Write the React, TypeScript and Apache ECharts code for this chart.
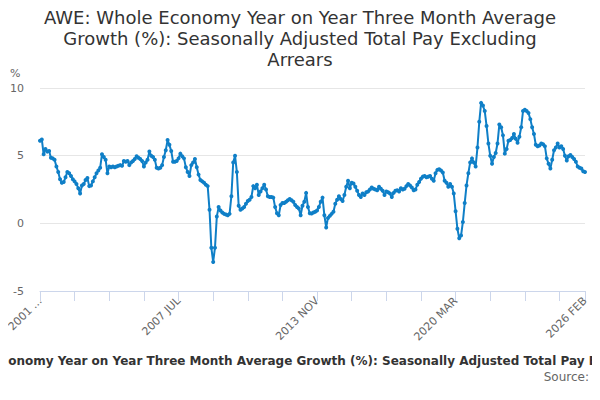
import React, { useEffect, useRef } from "react";
import * as echarts from "echarts";

const TITLE =
  "AWE: Whole Economy Year on Year Three Month Average Growth (%): Seasonally Adjusted Total Pay Excluding Arrears";
const TITLE_LINES = [
  "AWE: Whole Economy Year on Year Three Month Average",
  "Growth (%): Seasonally Adjusted Total Pay Excluding",
  "Arrears",
];
const MONTHS = ["JAN", "FEB", "MAR", "APR", "MAY", "JUN", "JUL", "AUG", "SEP", "OCT", "NOV", "DEC"];
const START_YEAR = 2001;
const START_MONTH = 2; // MAR
const Y_TICKS = [-5, 0, 5, 10];

// Monthly values, 2001 MAR .. 2026 FEB
const values2001 = [6.1, 6.2, 5.1, 5.5, 5.3, 5.35, 4.85, 4.8, 4.7, 4.2];
const values2002 = [3.8, 3.25, 3.0, 3.05, 3.4, 3.8, 3.7, 3.5, 3.25, 3.1, 2.9, 2.6];
const values2003 = [2.2, 2.8, 2.9, 3.2, 3.35, 2.75, 2.8, 3.1, 3.4, 3.7, 3.9, 4.1];
const values2004 = [5.1, 4.9, 4.7, 3.7, 4.2, 4.15, 4.2, 4.15, 4.2, 4.25, 4.3, 4.25];
const values2005 = [4.6, 4.55, 4.6, 4.3, 4.5, 4.6, 4.75, 4.95, 4.85, 4.75, 4.6, 4.2];
const values2006 = [4.5, 4.7, 5.3, 5.0, 4.9, 4.7, 4.1, 4.05, 4.1, 4.3, 4.9, 5.4];
const values2007 = [6.15, 5.8, 5.35, 4.55, 4.55, 4.6, 4.8, 5.15, 4.95, 4.8, 4.15, 3.8];
const values2008 = [3.5, 4.3, 4.5, 4.75, 4.15, 3.6, 3.2, 3.1, 3.0, 2.85, 2.75, 1.0];
const values2009 = [-1.8, -2.85, -1.8, 0.5, 1.2, 0.95, 0.8, 0.7, 0.65, 0.6, 0.7, 2.0];
const values2010 = [4.5, 5.0, 3.8, 1.3, 1.0, 1.1, 1.2, 1.45, 1.65, 1.75, 1.95, 2.75];
const values2011 = [2.6, 2.85, 2.1, 2.35, 2.6, 2.85, 2.5, 2.0, 1.95, 1.95, 1.9, 1.2];
const values2012 = [0.75, 0.6, 1.35, 1.5, 1.5, 1.6, 1.7, 1.8, 1.7, 1.6, 1.35, 1.2];
const values2013 = [1.1, 0.6, 1.3, 1.6, 2.25, 1.2, 0.75, 0.72, 0.8, 0.85, 0.95, 1.2];
const values2014 = [1.6, 1.9, 0.6, -0.3, 0.4, 0.55, 0.7, 0.85, 1.45, 1.75, 2.0, 1.8];
const values2015 = [1.65, 2.1, 2.7, 3.15, 2.6, 3.0, 2.95, 2.7, 2.4, 2.1, 1.95, 2.2];
const values2016 = [2.1, 2.3, 2.35, 2.5, 2.65, 2.55, 2.5, 2.45, 2.7, 2.55, 2.4, 2.1];
const values2017 = [2.35, 2.3, 2.2, 1.95, 2.25, 2.4, 2.45, 2.35, 2.6, 2.5, 2.55, 2.75];
const values2018 = [2.9, 2.8, 2.65, 2.45, 2.5, 2.85, 3.05, 3.3, 3.45, 3.5, 3.4, 3.45];
const values2019 = [3.5, 3.3, 3.15, 3.7, 3.95, 4.0, 3.9, 3.75, 3.15, 3.0, 2.7, 2.9];
const values2020 = [2.7, 2.2, 0.9, -0.4, -1.1, -0.9, 0.1, 1.5, 2.8, 3.7, 4.5, 4.8];
const values2021 = [4.5, 4.2, 5.6, 7.5, 8.9, 8.7, 8.3, 7.2, 5.9, 5.0, 4.4, 4.9];
const values2022 = [5.2, 5.9, 7.3, 7.1, 6.5, 5.15, 5.5, 6.1, 6.15, 6.3, 6.6, 6.25];
const values2023 = [5.95, 6.4, 7.1, 8.3, 8.4, 8.3, 8.15, 7.7, 7.1, 6.6, 5.8, 5.7];
const values2024 = [5.75, 5.9, 5.85, 5.7, 4.8, 4.4, 4.05, 4.7, 5.4, 5.6, 5.9, 5.6];
const values2025 = [5.7, 5.5, 5.0, 4.65, 4.95, 5.05, 4.9, 4.75, 4.55, 4.2, 4.1, 4.05];
const values2026 = [3.85, 3.8];

const SERIES = [
  ...values2001, ...values2002, ...values2003, ...values2004, ...values2005,
  ...values2006, ...values2007, ...values2008, ...values2009, ...values2010,
  ...values2011, ...values2012, ...values2013, ...values2014, ...values2015,
  ...values2016, ...values2017, ...values2018, ...values2019, ...values2020,
  ...values2021, ...values2022, ...values2023, ...values2024, ...values2025,
  ...values2026,
];

const CATEGORIES = SERIES.map((_, i) => {
  const m = START_MONTH + i;
  return `${START_YEAR + Math.floor(m / 12)} ${MONTHS[m % 12]}`;
});

const LABEL_STEP = 76;
const TICK_STEP = 19;

export default function App() {
  const ref = useRef<HTMLDivElement>(null);
  useEffect(() => {
    if (!ref.current) return;
    const chart = echarts.init(ref.current, null, { renderer: "svg" });
    const last = CATEGORIES.length - 1;
    chart.setOption({
      animation: false,
      textStyle: { fontFamily: "DejaVu Sans" },
      title: {
        text: TITLE_LINES.join("\n"),
        left: "center",
        top: 2,
        textStyle: { fontSize: 18, fontWeight: "normal", color: "#333", lineHeight: 21, fontFamily: "DejaVu Sans" },
      },
      grid: { left: 40, right: 15, top: 88, bottom: 109, containLabel: false },
      xAxis: {
        type: "category",
        data: CATEGORIES,
        boundaryGap: false,
        axisLine: { show: true, onZero: false, lineStyle: { color: "#ccd6eb" } },
        axisTick: {
          show: true,
          length: 10,
          lineStyle: { color: "#ccd6eb" },
          interval: (i: number) => i % TICK_STEP === 0 || i === last,
        },
        axisLabel: {
          rotate: 45,
          color: "#666",
          fontSize: 11,
          margin: 8,
          interval: (i: number) => i % LABEL_STEP === 0 || i === last,
          formatter: (v: string, i: number) => (i === 0 ? v.slice(0, 4) + " ..." : v),
        },
        splitLine: { show: false },
      },
      yAxis: {
        type: "value",
        min: Y_TICKS[0],
        max: Y_TICKS[Y_TICKS.length - 1],
        interval: 5,
        axisLine: { show: false },
        axisTick: { show: false },
        axisLabel: { color: "#666", fontSize: 11, margin: 16 },
        splitLine: { lineStyle: { color: "#e6e6e6" } },
      },
      series: [
        {
          type: "line",
          data: SERIES,
          showSymbol: true,
          showAllSymbol: true,
          symbol: "circle",
          symbolSize: 4,
          itemStyle: { color: "#0f7fc7" },
          lineStyle: { color: "#0f7fc7", width: 2 },
        },
      ],
      graphic: [
        {
          type: "text",
          left: 10,
          top: 68,
          style: { text: "%", fill: "#666", fontSize: 11, fontFamily: "DejaVu Sans" },
        },
        {
          type: "text",
          x: 308,
          y: 361,
          style: {
            text: TITLE,
            fill: "#333",
            fontSize: 12,
            fontWeight: "bold",
            fontFamily: "DejaVu Sans",
            align: "center",
            verticalAlign: "middle",
          },
        },
        {
          type: "text",
          x: 589,
          y: 377,
          style: {
            text: "Source:",
            fill: "#666",
            fontSize: 12,
            fontFamily: "DejaVu Sans",
            align: "right",
            verticalAlign: "middle",
          },
        },
      ],
    });
    return () => chart.dispose();
  }, []);
  return <div ref={ref} style={{ width: 600, height: 400, margin: -8 }} />;
}
